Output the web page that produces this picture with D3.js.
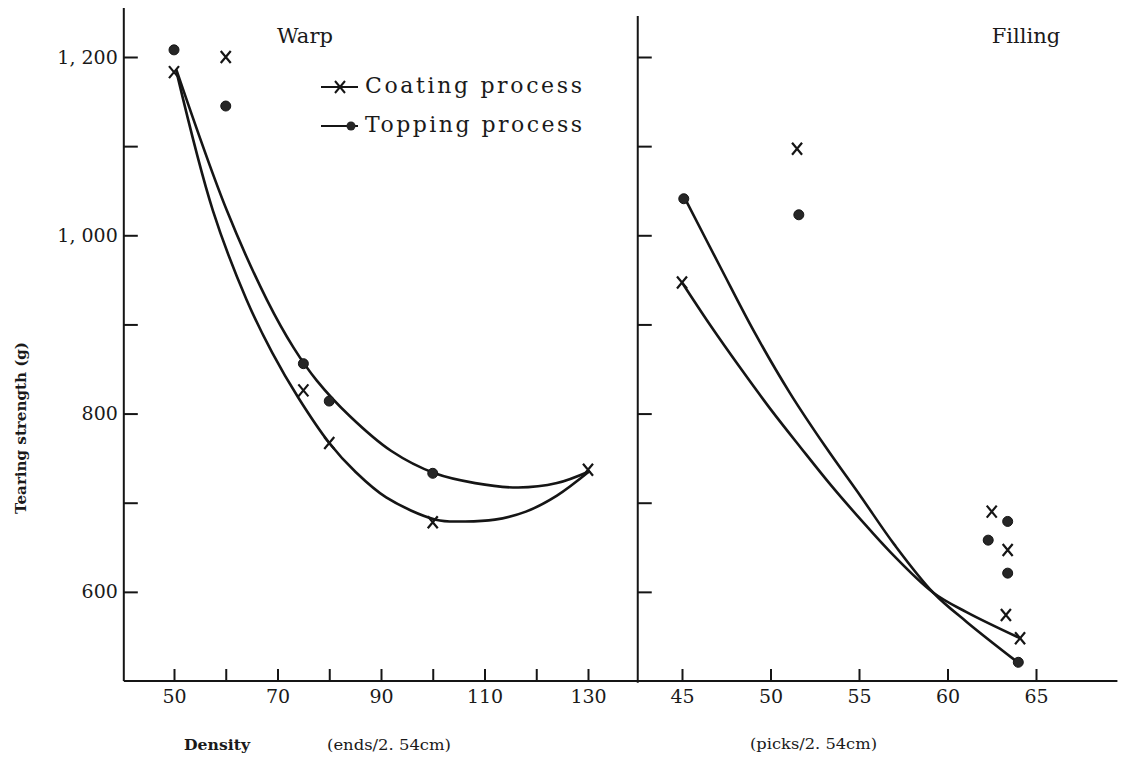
<!DOCTYPE html>
<html>
<head>
<meta charset="utf-8">
<script src="https://cdn.jsdelivr.net/npm/d3@7"></script>
<style>
  body { margin: 0; background: #fff; }
  svg { display: block; }
  text { font-family: "DejaVu Serif", "Liberation Serif", serif; fill: #1a1a1a; }
</style>
</head>
<body>
<div id="container"></div>
<script>
(function () {
  var width = 1123,
      height = 766;

  // tick values and labels
  var yTicks = [600, 700, 800, 900, 1000, 1100, 1200];
  var yTickLabels = ["600", "", "800", "", "1, 000", "", "1, 200"];
  var warpTicks = [50, 60, 70, 80, 90, 100, 110, 120, 130];
  var warpTickLabels = ["50", "", "70", "", "90", "", "110", "", "130"];
  var fillTicks = [45, 50, 55, 60, 65];
  var fillTickLabels = ["45", "50", "55", "60", "65"];

  // measured points, Warp panel
  var warpCoatX = [50, 60, 75, 80, 100, 130];
  var warpCoatY = [1183, 1200, 826, 767, 678, 737];
  var warpTopX = [50, 60, 75, 80, 100];
  var warpTopY = [1208, 1145, 856, 814, 733];

  // measured points, Filling panel
  var fillCoatX = [45, 51.5, 62.5, 63.4, 63.3, 64.1];
  var fillCoatY = [947, 1097, 690, 647, 574, 548];
  var fillTopX = [45.1, 51.6, 62.3, 63.4, 63.4, 64.0];
  var fillTopY = [1041, 1023, 658, 679, 621, 521];

  // fitted curves as drawn
  var warpCoatCurveX = [50.5, 57.5, 64, 69, 74, 80, 85, 91, 100.6, 106, 112, 118, 124, 130.2];
  var warpCoatCurveY = [1183, 1028, 928, 868, 818, 767, 735, 706, 681, 679, 681, 690, 708, 735];
  var warpTopCurveX = [50.5, 60.2, 68, 73.1, 77.6, 84, 92, 100.4, 108.2, 116.5, 124, 130.2];
  var warpTopCurveY = [1185, 1028, 927, 874, 837, 797, 758, 733, 722, 717, 722, 735];
  var fillCoatCurveX = [45.0, 46.6, 48.3, 50.0, 51.7, 53.4, 55.1, 56.8, 59.2, 61.1, 64.1];
  var fillCoatCurveY = [947, 899, 851, 805, 762, 720, 681, 644, 599, 577, 548];
  var fillTopCurveX = [45.2, 47.2, 49.1, 51.1, 53.1, 55.1, 57.0, 59.2, 61.1, 63.9];
  var fillTopCurveY = [1040, 963, 891, 823, 763, 707, 653, 599, 566, 522];

  var ink = "#151515";

  var svg = d3.select("#container").append("svg")
    .attr("width", width).attr("height", height);

  var y = d3.scaleLinear().domain([500, 1200]).range([681, 57]);
  var xW = d3.scaleLinear().domain([50, 130]).range([174, 588]);
  var xF = d3.scaleLinear().domain([45, 65]).range([682, 1036]);

  function zip(xs, ys) {
    return xs.map(function (d, i) { return [d, ys[i]]; });
  }

  // axis lines
  var leftX = xW(40.3), divX = xF(42.5);
  svg.append("line").attr("x1", leftX).attr("x2", leftX)
    .attr("y1", y(1255)).attr("y2", y(500))
    .attr("stroke", ink).attr("stroke-width", 2);
  svg.append("line").attr("x1", divX).attr("x2", divX)
    .attr("y1", y(1246)).attr("y2", y(498))
    .attr("stroke", ink).attr("stroke-width", 2);
  svg.append("line").attr("x1", leftX).attr("x2", xF(69.6))
    .attr("y1", y(500)).attr("y2", y(500))
    .attr("stroke", ink).attr("stroke-width", 2);

  function styleAxis(g, size) {
    g.select(".domain").remove();
    g.selectAll(".tick line").attr("stroke", ink).attr("stroke-width", 2);
    g.selectAll(".tick text").attr("font-family", null)
      .style("font-size", size + "px").attr("fill", "#1a1a1a");
  }

  svg.append("g").attr("transform", "translate(" + leftX + ",0)")
    .call(d3.axisLeft(y).tickValues(yTicks).tickSize(-14).tickPadding(6)
      .tickFormat(function (d, i) { return yTickLabels[i]; }))
    .call(styleAxis, 19);

  svg.append("g").attr("transform", "translate(" + divX + ",0)")
    .call(d3.axisLeft(y).tickValues(yTicks).tickSize(-14).tickFormat(""))
    .call(styleAxis, 19);

  svg.append("g").attr("transform", "translate(0," + y(500) + ")")
    .call(d3.axisBottom(xW).tickValues(warpTicks).tickSize(-12).tickPadding(9)
      .tickFormat(function (d, i) { return warpTickLabels[i]; }))
    .call(styleAxis, 19);

  svg.append("g").attr("transform", "translate(0," + y(500) + ")")
    .call(d3.axisBottom(xF).tickValues(fillTicks).tickSize(-12).tickPadding(9)
      .tickFormat(function (d, i) { return fillTickLabels[i]; }))
    .call(styleAxis, 19);

  // curves
  function drawCurve(pts, xs) {
    var line = d3.line()
      .x(function (d) { return xs(d[0]); })
      .y(function (d) { return y(d[1]); })
      .curve(d3.curveCatmullRom.alpha(0.5));
    svg.append("path").datum(pts).attr("d", line)
      .attr("fill", "none").attr("stroke", ink).attr("stroke-width", 2.6)
      .attr("stroke-linecap", "round");
  }
  drawCurve(zip(warpCoatCurveX, warpCoatCurveY), xW);
  drawCurve(zip(warpTopCurveX, warpTopCurveY), xW);
  drawCurve(zip(fillCoatCurveX, fillCoatCurveY), xF);
  drawCurve(zip(fillTopCurveX, fillTopCurveY), xF);

  // markers
  var crossPath = "M-5,-6L5,6M5,-6L-5,6";
  function drawCrosses(pts, xs) {
    svg.selectAll(null).data(pts).enter().append("path")
      .attr("d", crossPath)
      .attr("transform", function (d) { return "translate(" + xs(d[0]) + "," + y(d[1]) + ")"; })
      .attr("fill", "none").attr("stroke", ink).attr("stroke-width", 2.2);
  }
  function drawDots(pts, xs) {
    svg.selectAll(null).data(pts).enter().append("circle")
      .attr("cx", function (d) { return xs(d[0]); })
      .attr("cy", function (d) { return y(d[1]); })
      .attr("r", 5).attr("fill", "#262626").attr("stroke", ink).attr("stroke-width", 1);
  }
  drawCrosses(zip(warpCoatX, warpCoatY), xW);
  drawDots(zip(warpTopX, warpTopY), xW);
  drawCrosses(zip(fillCoatX, fillCoatY), xF);
  drawDots(zip(fillTopX, fillTopY), xF);

  // panel titles
  svg.append("text").attr("x", 305).attr("y", 37).attr("text-anchor", "middle")
    .attr("dominant-baseline", "middle").style("font-size", "21px").text("Warp");
  svg.append("text").attr("x", 1026).attr("y", 37).attr("text-anchor", "middle")
    .attr("dominant-baseline", "middle").style("font-size", "21px").text("Filling");

  // legend
  var legend = svg.append("g");
  [["Coating process", 87], ["Topping process", 126]].forEach(function (item, i) {
    legend.append("line").attr("x1", 321).attr("x2", 358)
      .attr("y1", item[1]).attr("y2", item[1])
      .attr("stroke", ink).attr("stroke-width", 2);
    if (i === 0) {
      legend.append("path").attr("d", crossPath)
        .attr("transform", "translate(340," + item[1] + ")")
        .attr("fill", "none").attr("stroke", ink).attr("stroke-width", 2);
    } else {
      legend.append("circle").attr("cx", 351).attr("cy", item[1]).attr("r", 4.5)
        .attr("fill", "#262626");
    }
    legend.append("text").attr("x", 365).attr("y", item[1])
      .attr("dominant-baseline", "middle").style("font-size", "22px")
      .attr("textLength", 217).attr("lengthAdjust", "spacing")
      .text(item[0]);
  });

  // axis titles
  svg.append("text")
    .attr("transform", "translate(22,428) rotate(-90)")
    .attr("text-anchor", "middle").attr("dominant-baseline", "middle")
    .style("font-size", "15px").style("font-weight", "bold")
    .attr("textLength", 172).attr("lengthAdjust", "spacingAndGlyphs")
    .text("Tearing strength (g)");

  svg.append("text").attr("x", 184).attr("y", 746)
    .attr("dominant-baseline", "middle").style("font-size", "15px").style("font-weight", "bold")
    .attr("textLength", 66).attr("lengthAdjust", "spacingAndGlyphs")
    .text("Density");
  svg.append("text").attr("x", 327).attr("y", 746)
    .attr("dominant-baseline", "middle").style("font-size", "15px")
    .attr("textLength", 124).attr("lengthAdjust", "spacingAndGlyphs")
    .text("(ends/2. 54cm)");
  svg.append("text").attr("x", 750).attr("y", 745)
    .attr("dominant-baseline", "middle").style("font-size", "15px")
    .attr("textLength", 127).attr("lengthAdjust", "spacingAndGlyphs")
    .text("(picks/2. 54cm)");
})();
</script>
</body>
</html>
